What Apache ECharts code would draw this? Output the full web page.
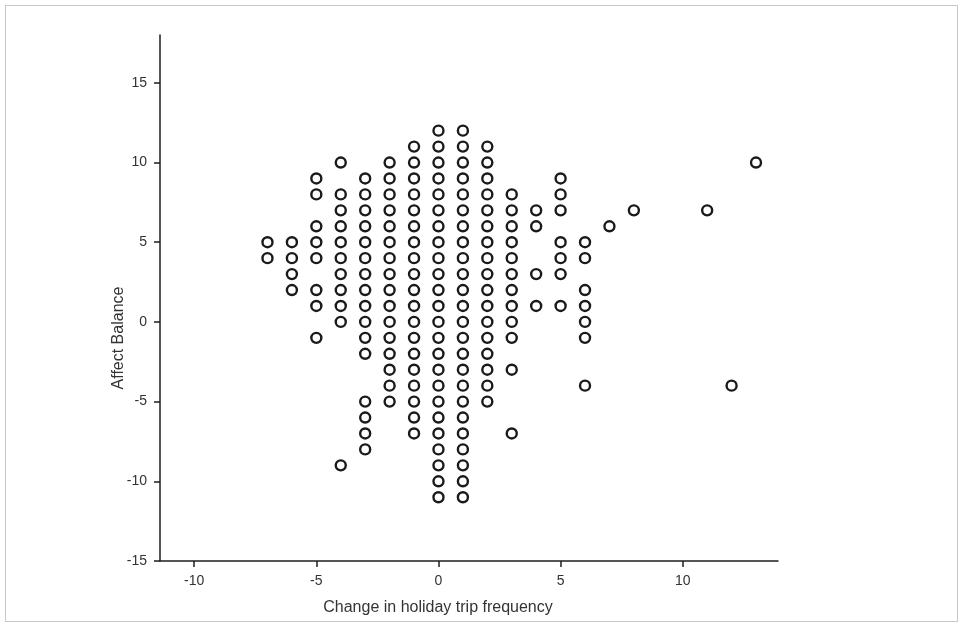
<!DOCTYPE html>
<html>
<head>
<meta charset="utf-8">
<script src="https://cdn.jsdelivr.net/npm/echarts@6/dist/echarts.min.js"></script>
<style>
html,body{margin:0;padding:0;background:#fff;}
#frame{position:absolute;left:5px;top:5px;width:953px;height:617px;border:1px solid #c8c8c8;box-sizing:border-box;}
#chart{position:absolute;left:0;top:0;width:965px;height:626px;}
</style>
</head>
<body>
<div id="frame"></div>
<div id="chart"></div>
<script>
// Change in holiday trip frequency (x) and the Affect Balance values found at each x
const tripChanges = [-7, -6, -5, -4, -3, -2, -1, 0, 1, 2, 3, 4, 5, 6, 7, 8, 11, 12, 13];
const affectAtMinus7 = [5, 4];
const affectAtMinus6 = [5, 4, 3, 2];
const affectAtMinus5 = [9, 8, 6, 5, 4, 2, 1, -1];
const affectAtMinus4 = [10, 8, 7, 6, 5, 4, 3, 2, 1, 0, -9];
const affectAtMinus3 = [9, 8, 7, 6, 5, 4, 3, 2, 1, 0, -1, -2, -5, -6, -7, -8];
const affectAtMinus2 = [10, 9, 8, 7, 6, 5, 4, 3, 2, 1, 0, -1, -2, -3, -4, -5];
const affectAtMinus1 = [11, 10, 9, 8, 7, 6, 5, 4, 3, 2, 1, 0, -1, -2, -3, -4, -5, -6, -7];
const affectAt0 = [12, 11, 10, 9, 8, 7, 6, 5, 4, 3, 2, 1, 0, -1, -2, -3, -4, -5, -6, -7, -8, -9, -10, -11];
const affectAt1 = [12, 11, 10, 9, 8, 7, 6, 5, 4, 3, 2, 1, 0, -1, -2, -3, -4, -5, -6, -7, -8, -9, -10, -11];
const affectAt2 = [11, 10, 9, 8, 7, 6, 5, 4, 3, 2, 1, 0, -1, -2, -3, -4, -5];
const affectAt3 = [8, 7, 6, 5, 4, 3, 2, 1, 0, -1, -3, -7];
const affectAt4 = [7, 6, 3, 1];
const affectAt5 = [9, 8, 7, 5, 4, 3, 1];
const affectAt6 = [5, 4, 2, 1, 0, -1, -4];
const affectAt7 = [6];
const affectAt8 = [7];
const affectAt11 = [7];
const affectAt12 = [-4];
const affectAt13 = [10];
const affectColumns = [affectAtMinus7, affectAtMinus6, affectAtMinus5, affectAtMinus4, affectAtMinus3,
  affectAtMinus2, affectAtMinus1, affectAt0, affectAt1, affectAt2, affectAt3, affectAt4, affectAt5,
  affectAt6, affectAt7, affectAt8, affectAt11, affectAt12, affectAt13];
const xTicks = [-10, -5, 0, 5, 10];
const yTicks = [-15, -10, -5, 0, 5, 10, 15];
const xTitle = 'Change in holiday trip frequency';
const yTitle = 'Affect Balance';

const points = [];
tripChanges.forEach((x, i) => affectColumns[i].forEach(y => points.push([x, y])));

const FONT = "'Liberation Sans Narrow', 'Liberation Sans', 'DejaVu Sans', sans-serif";
const AX = '#1e1e1e';
const chart = echarts.init(document.getElementById('chart'), null, {renderer: 'canvas'});
chart.setOption({
  animation: false,
  backgroundColor: 'transparent',
  grid: {left: 160, right: 187, top: 35, bottom: 65, containLabel: false},
  xAxis: {
    type: 'value', min: -11.4, max: 13.9,
    splitLine: {show: false},
    axisLine: {show: true, onZero: false, lineStyle: {color: AX, width: 1.5}},
    axisTick: {show: true, length: 6, lineStyle: {color: AX, width: 1.5},
      customValues: xTicks},
    axisLabel: {color: '#333', fontFamily: FONT, fontSize: 14, margin: 13,
      customValues: xTicks, formatter: v => String(v)},
    name: xTitle, nameLocation: 'middle', nameGap: 39,
    nameTextStyle: {color: '#333', fontFamily: FONT, fontSize: 16, padding: [0, 62, 0, 0]}
  },
  yAxis: {
    type: 'value', min: -15, max: 18,
    splitLine: {show: false},
    axisLine: {show: true, onZero: false, lineStyle: {color: AX, width: 1.5}},
    axisTick: {show: true, length: 6, lineStyle: {color: AX, width: 1.5},
      customValues: yTicks},
    axisLabel: {color: '#333', fontFamily: FONT, fontSize: 14, margin: 13,
      customValues: yTicks, formatter: v => String(v)},
    name: yTitle, nameLocation: 'middle', nameGap: 33, nameMoveOverlap: false,
    nameTextStyle: {color: '#333', fontFamily: FONT, fontSize: 16, padding: [0, 80, 0, 0]}
  },
  series: [{
    type: 'scatter',
    data: points,
    symbol: 'circle',
    symbolSize: 10,
    itemStyle: {color: '#ffffff', borderColor: '#1a1a1a', borderWidth: 2.4, opacity: 1}
  }]
});
</script>
</body>
</html>
